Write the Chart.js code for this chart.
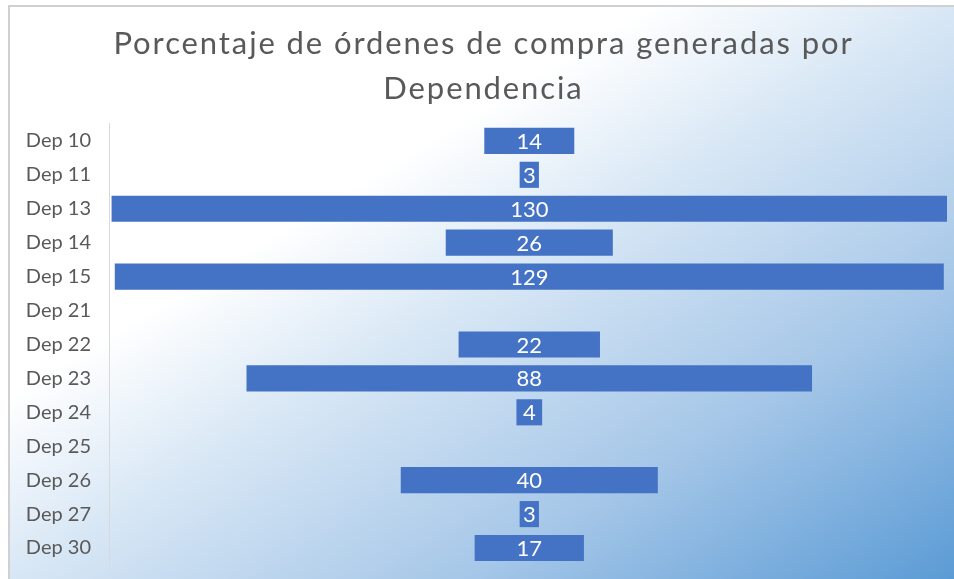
<!DOCTYPE html>
<html lang="es">
<head>
  <meta charset="UTF-8">
  <title>Órdenes de compra por Dependencia</title>
  <script src="https://cdn.jsdelivr.net/npm/chart.js"></script>
  <style>
    body { margin: 0; background: #fff; }
    canvas { display: block; }
  </style>
</head>
<body>
  <canvas id="grafico" width="954" height="579"></canvas>
  <script>
    // datos
    const dependencias = ['Dep 10', 'Dep 11', 'Dep 13', 'Dep 14', 'Dep 15', 'Dep 21', 'Dep 22',
                          'Dep 23', 'Dep 24', 'Dep 25', 'Dep 26', 'Dep 27', 'Dep 30'];
    const ordenes = [14, 3, 130, 26, 129, null, 22, 88, 4, null, 40, 3, 17];
    const titulo = ['Porcentaje de órdenes de compra generadas por', 'Dependencia'];

    const fuente = 'Lato, "Open Sans", sans-serif';

    // fondo degradado tipo Excel (blanco arriba-izq, azul abajo-der)
    const fondo = {
      id: 'fondo',
      beforeDraw(chart) {
        const { ctx, width, height } = chart;
        const x0 = 9, y0 = 6;
        const W = width - x0, H = height - y0;
        const s = 2 * W * H / (W * W + H * H);
        ctx.save();
        ctx.fillStyle = '#fff';
        ctx.fillRect(0, 0, width, height);
        const g = ctx.createLinearGradient(x0, y0, x0 + s * H, y0 + s * W);
        g.addColorStop(0, '#ffffff');
        g.addColorStop(0.34, '#ffffff');
        g.addColorStop(0.5, '#d8e7f5');
        g.addColorStop(0.74, '#a6c7e8');
        g.addColorStop(1, '#5b9bd5');
        ctx.fillStyle = g;
        ctx.fillRect(x0, y0, W, H);
        ctx.strokeStyle = '#d0d0d0';
        ctx.lineWidth = 2;
        ctx.beginPath();
        ctx.moveTo(x0, height);
        ctx.lineTo(x0, y0);
        ctx.lineTo(width, y0);
        ctx.stroke();
        ctx.restore();

        // titulo un poco mas espaciado, como en Excel
        const tb = chart.titleBlock;
        if (tb && !tb._espaciado) {
          const dibujar = tb.draw.bind(tb);
          tb.draw = function () {
            chart.ctx.save();
            chart.ctx.letterSpacing = '1.9px';
            dibujar();
            chart.ctx.restore();
          };
          tb._espaciado = true;
        }
      }
    };

    // etiquetas de valor en el centro de cada barra
    const etiquetas = {
      id: 'etiquetas',
      afterDatasetsDraw(chart) {
        const { ctx } = chart;
        const meta = chart.getDatasetMeta(0);
        const cx = chart.scales.x.getPixelForValue(0);
        ctx.save();
        ctx.fillStyle = '#ffffff';
        ctx.font = '22px ' + fuente;
        ctx.textAlign = 'center';
        ctx.textBaseline = 'middle';
        meta.data.forEach((barra, i) => {
          if (ordenes[i] === null) return;
          ctx.fillText(String(ordenes[i]), cx, barra.y + 1);
        });
        ctx.restore();
      }
    };

    const ctx = document.getElementById('grafico').getContext('2d');
    new Chart(ctx, {
      type: 'bar',
      data: {
        labels: dependencias,
        datasets: [{
          data: ordenes.map(v => v === null ? null : [-v / 2, v / 2]),
          backgroundColor: '#4472c4',
          borderWidth: 0,
          barPercentage: 0.77,
          categoryPercentage: 1
        }]
      },
      options: {
        indexAxis: 'y',
        responsive: false,
        animation: false,
        layout: { padding: { left: 20, right: 7, top: 0, bottom: 14 } },
        plugins: {
          legend: { display: false },
          tooltip: { enabled: false },
          title: {
            display: true,
            text: titulo,
            color: '#595959',
            font: { family: fuente, size: 31, weight: 'normal', lineHeight: 1.45 },
            padding: { top: 22, bottom: 12 }
          }
        },
        scales: {
          x: { display: false, min: -65.4, max: 65 },
          y: {
            grid: { display: false, drawTicks: false },
            border: { display: true, color: '#d9d9d9', width: 1 },
            ticks: { color: '#595959', font: { family: fuente, size: 20 }, padding: 18 },
            afterFit(scale) {
              scale.width = 89;
              scale.paddingTop = 0;
              scale.paddingBottom = 0;
            }
          }
        }
      },
      plugins: [fondo, etiquetas]
    });
  </script>
</body>
</html>
